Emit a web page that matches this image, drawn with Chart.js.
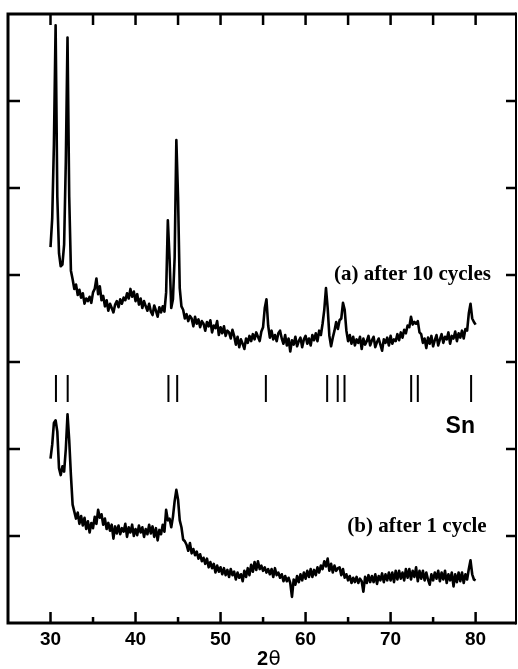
<!DOCTYPE html>
<html>
<head>
<meta charset="utf-8">
<script src="https://cdn.jsdelivr.net/npm/chart.js@4/dist/chart.umd.min.js"></script>
<style>
html,body{margin:0;padding:0;background:#fff;}
#wrap{width:518px;height:669px;position:relative;}
</style>
</head>
<body>
<div id="wrap"><canvas id="c" width="518" height="669"></canvas></div>
<script>
// 2θ grid of the scans (start, step)
const angleStart = 30.0;
const angleStep = 0.2;

// (a) after 10 cycles (offset intensity, arbitrary units)
const after10Cycles = [
 4.32, 4.65, 5.50, 6.87, 4.90, 4.25, 4.10, 4.12, 4.35, 5.30,
 6.73, 4.90, 4.05, 3.95, 3.84, 3.89, 3.77, 3.83, 3.74, 3.79,
 3.67, 3.73, 3.70, 3.75, 3.68, 3.80, 3.84, 3.96, 3.78, 3.87,
 3.71, 3.76, 3.64, 3.71, 3.59, 3.67, 3.62, 3.57, 3.66, 3.70,
 3.63, 3.72, 3.67, 3.74, 3.71, 3.79, 3.73, 3.84, 3.75, 3.81,
 3.70, 3.78, 3.66, 3.73, 3.62, 3.70, 3.64, 3.59, 3.67, 3.58,
 3.54, 3.65, 3.59, 3.52, 3.63, 3.57, 3.64, 3.58, 3.80, 4.63,
 4.20, 3.62, 3.72, 4.20, 5.55, 4.90, 3.85, 3.64, 3.60, 3.50,
 3.55, 3.47, 3.53, 3.50, 3.41, 3.52, 3.44, 3.49, 3.40, 3.47,
 3.44, 3.36, 3.46, 3.41, 3.48, 3.34, 3.42, 3.39, 3.47, 3.31,
 3.40, 3.33, 3.41, 3.30, 3.36, 3.34, 3.27, 3.37, 3.30, 3.20,
 3.29, 3.17, 3.26, 3.21, 3.15, 3.27, 3.22, 3.30, 3.24, 3.32,
 3.26, 3.34, 3.29, 3.24, 3.35, 3.40, 3.62, 3.72, 3.42, 3.28,
 3.36, 3.26, 3.31, 3.24, 3.33, 3.36, 3.27, 3.21, 3.31, 3.19,
 3.27, 3.12, 3.25, 3.20, 3.29, 3.18, 3.24, 3.28, 3.17, 3.26,
 3.30, 3.21, 3.27, 3.19, 3.31, 3.25, 3.33, 3.24, 3.36, 3.31,
 3.44, 3.60, 3.85, 3.62, 3.30, 3.18, 3.28, 3.36, 3.46, 3.38,
 3.48, 3.50, 3.68, 3.60, 3.36, 3.24, 3.31, 3.21, 3.29, 3.19,
 3.26, 3.22, 3.29, 3.15, 3.27, 3.20, 3.24, 3.30, 3.19, 3.25,
 3.29, 3.17, 3.23, 3.27, 3.20, 3.13, 3.26, 3.22, 3.28, 3.19,
 3.30, 3.21, 3.26, 3.24, 3.32, 3.25, 3.34, 3.28, 3.37, 3.33,
 3.42, 3.40, 3.52, 3.43, 3.46, 3.44, 3.47, 3.34, 3.32, 3.22,
 3.27, 3.16, 3.28, 3.21, 3.30, 3.18, 3.25, 3.31, 3.19, 3.26,
 3.32, 3.22, 3.29, 3.26, 3.34, 3.21, 3.30, 3.27, 3.35, 3.24,
 3.33, 3.28, 3.36, 3.27, 3.38, 3.36, 3.56, 3.67, 3.50, 3.46,
 3.43
];

// (b) after 1 cycle
const after1Cycle = [
 1.89, 2.05, 2.30, 2.33, 2.20, 1.78, 1.70, 1.80, 1.74, 2.00,
 2.40, 2.10, 1.70, 1.36, 1.28, 1.20, 1.27, 1.14, 1.23, 1.12,
 1.21, 1.08, 1.17, 1.04, 1.15, 1.09, 1.22, 1.14, 1.30, 1.21,
 1.25, 1.13, 1.20, 1.08, 1.15, 1.06, 1.13, 0.97, 1.11, 1.03,
 1.12, 1.02, 1.09, 1.05, 1.14, 0.99, 1.10, 1.04, 1.13, 1.00,
 1.08, 1.01, 1.12, 1.04, 1.10, 0.99, 1.08, 1.02, 1.13, 1.03,
 1.11, 0.99, 1.09, 0.95, 1.07, 1.02, 1.13, 1.05, 1.30, 1.18,
 1.20, 1.10, 1.22, 1.40, 1.53, 1.42, 1.18, 1.10, 0.96, 0.94,
 0.90, 0.83, 0.92, 0.80, 0.85, 0.78, 0.82, 0.74, 0.79, 0.71,
 0.75, 0.68, 0.74, 0.64, 0.70, 0.63, 0.68, 0.58, 0.66, 0.59,
 0.64, 0.56, 0.63, 0.55, 0.61, 0.53, 0.62, 0.55, 0.59, 0.50,
 0.58, 0.52, 0.56, 0.48, 0.60, 0.53, 0.63, 0.55, 0.67, 0.59,
 0.70, 0.61, 0.71, 0.62, 0.66, 0.60, 0.64, 0.58, 0.62, 0.56,
 0.62, 0.53, 0.63, 0.55, 0.58, 0.52, 0.56, 0.48, 0.54, 0.48,
 0.52, 0.46, 0.30, 0.50, 0.44, 0.54, 0.47, 0.56, 0.49, 0.58,
 0.51, 0.60, 0.53, 0.62, 0.53, 0.61, 0.55, 0.64, 0.58, 0.66,
 0.62, 0.71, 0.65, 0.74, 0.60, 0.68, 0.58, 0.66, 0.60, 0.63,
 0.64, 0.55, 0.62, 0.52, 0.56, 0.49, 0.54, 0.46, 0.52, 0.47,
 0.53, 0.46, 0.51, 0.48, 0.36, 0.53, 0.46, 0.55, 0.47, 0.54,
 0.47, 0.56, 0.45, 0.54, 0.49, 0.57, 0.47, 0.56, 0.49, 0.58,
 0.49, 0.58, 0.47, 0.60, 0.50, 0.60, 0.51, 0.58, 0.49, 0.62,
 0.52, 0.62, 0.50, 0.60, 0.53, 0.64, 0.48, 0.60, 0.51, 0.60,
 0.49, 0.58, 0.50, 0.44, 0.56, 0.49, 0.58, 0.51, 0.60, 0.48,
 0.58, 0.50, 0.60, 0.46, 0.56, 0.49, 0.58, 0.42, 0.56, 0.47,
 0.58, 0.48, 0.58, 0.46, 0.56, 0.50, 0.62, 0.72, 0.56, 0.50,
 0.49
];

// Sn reference reflections (2θ)
const snPeaks = [30.64, 32.02, 43.87, 44.90, 55.33, 62.54, 63.78, 64.58, 72.42, 73.20, 79.47];
const snTickBottom = 2.54;
const snTickTop = 2.85;

// axis ticks
const xMajorTicks = [30, 40, 50, 60, 70, 80];
const xMinorTicks = [35, 45, 55, 65, 75];
const yTicks = [1, 2, 3, 4, 5, 6];

// texts
const labelA = "(a) after 10 cycles";
const labelB = "(b) after 1 cycle";
const labelSn = "Sn";
const xTitle = ["2", "θ"];

function toXY(arr){
  return arr.map((v,i)=>({x: +(angleStart + i*angleStep).toFixed(2), y: v}));
}
const snData = [];
snPeaks.forEach(p=>{
  snData.push({x:p, y:snTickBottom});
  snData.push({x:p, y:snTickTop});
  snData.push({x:p, y:null});
});

const framePlugin = {
  id: 'frame',
  afterDraw(chart){
    const ctx = chart.ctx;
    const a = chart.chartArea;
    const xs = chart.scales.x, ys = chart.scales.y;
    ctx.save();
    ctx.strokeStyle = '#000';
    ctx.lineCap = 'butt';
    // frame
    ctx.lineWidth = 3;
    ctx.beginPath();
    ctx.moveTo(a.left, a.top); ctx.lineTo(a.right, a.top);
    ctx.moveTo(a.left, a.bottom); ctx.lineTo(a.right, a.bottom);
    ctx.moveTo(a.left, a.top - 1.5); ctx.lineTo(a.left, a.bottom + 1.5);
    ctx.stroke();
    ctx.lineWidth = 2;
    ctx.beginPath();
    ctx.moveTo(a.right, a.top - 1.5); ctx.lineTo(a.right, a.bottom + 1.5);
    ctx.stroke();
    // x ticks
    ctx.lineWidth = 2.5;
    ctx.beginPath();
    xMajorTicks.forEach(v=>{
      const px = xs.getPixelForValue(v);
      ctx.moveTo(px, a.bottom); ctx.lineTo(px, a.bottom - 11);
      ctx.moveTo(px, a.top); ctx.lineTo(px, a.top + 11);
    });
    xMinorTicks.forEach(v=>{
      const px = xs.getPixelForValue(v);
      ctx.moveTo(px, a.bottom); ctx.lineTo(px, a.bottom - 6);
      ctx.moveTo(px, a.top); ctx.lineTo(px, a.top + 11);
    });
    // y ticks
    yTicks.forEach(v=>{
      const py = ys.getPixelForValue(v);
      ctx.moveTo(a.left, py); ctx.lineTo(a.left + 12, py);
      ctx.moveTo(a.right, py); ctx.lineTo(a.right - 10, py);
    });
    ctx.stroke();

    // annotations
    ctx.fillStyle = '#000';
    ctx.textBaseline = 'middle';
    ctx.textAlign = 'right';
    ctx.font = 'bold 21px "Liberation Serif", "Times New Roman", serif';
    ctx.fillText(labelA, xs.getPixelForValue(81.8), ys.getPixelForValue(4.0));
    ctx.fillText(labelB, xs.getPixelForValue(81.3), ys.getPixelForValue(1.11));
    ctx.textAlign = 'center';
    ctx.font = 'bold 23px "Liberation Sans", Arial, sans-serif';
    ctx.fillText(labelSn, xs.getPixelForValue(78.2), ys.getPixelForValue(2.26));

    // x title "2θ"
    ctx.textAlign = 'left';
    ctx.textBaseline = 'alphabetic';
    const tx = 257, ty = 665;
    ctx.font = 'bold 20px "Liberation Sans", Arial, sans-serif';
    ctx.fillText(xTitle[0], tx, ty);
    const w = ctx.measureText(xTitle[0]).width;
    ctx.font = '20px "DejaVu Sans", sans-serif';
    ctx.fillText(xTitle[1], tx + w + 0.5, ty);
    ctx.restore();
  }
};

const lineStyle = {borderColor:'#000', borderWidth:2.6, pointRadius:0, tension:0, fill:false, borderJoinStyle:'round'};

new Chart(document.getElementById('c'), {
  type: 'line',
  data: {
    datasets: [
      Object.assign({data: toXY(after10Cycles)}, lineStyle),
      Object.assign({data: toXY(after1Cycle)}, lineStyle),
      {data: snData, borderColor:'#000', borderWidth:2, pointRadius:0, tension:0, fill:false, spanGaps:false}
    ]
  },
  options: {
    responsive:false,
    animation:false,
    events: [],
    layout: {padding: {left: 8, top: 14, right: 2, bottom: 0}},
    plugins: {legend:{display:false}, tooltip:{enabled:false}},
    scales: {
      x: {
        type:'linear', min:25, max:84.75,
        grid:{display:false, drawTicks:false},
        border:{display:false},
        afterFit(s){ s.height = 46; },
        afterBuildTicks(s){ s.ticks = xMajorTicks.map(v=>({value:v})); },
        ticks:{
          padding:5,
          color:'#000',
          font:{family:'"Liberation Sans", Arial, sans-serif', size:19, weight:'bold'},
          callback:(v)=>String(v),
          maxRotation:0, autoSkip:false
        }
      },
      y: {
        type:'linear', min:0, max:7, display:false
      }
    }
  },
  plugins:[framePlugin]
});
</script>
</body>
</html>
